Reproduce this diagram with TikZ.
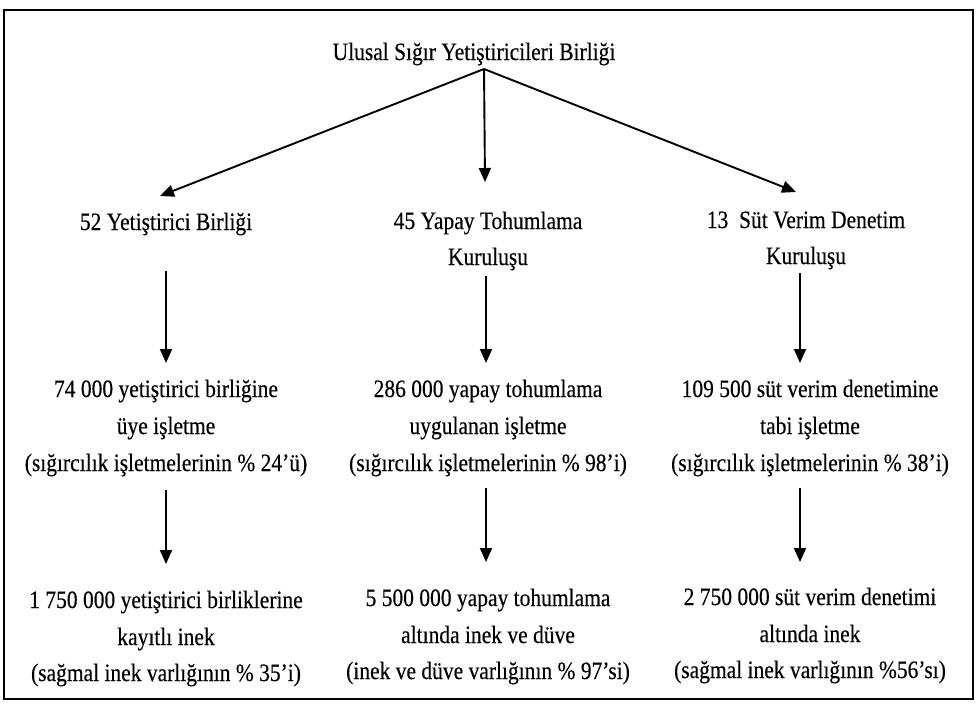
\documentclass[tikz,border=0pt]{standalone}
\usepackage{fontspec}
\setmainfont[FakeStretch=0.86,FakeBold=0.3]{Liberation Serif}
\usetikzlibrary{arrows.meta,calc}
\begin{document}
\begin{tikzpicture}[x=1pt,y=-1pt,
  txt/.style={anchor=base,inner sep=0pt,font=\fontsize{25}{30}\selectfont},
  arr/.style={-{Triangle[length=14pt,width=12pt]},line width=1.9pt},
  frame/.style={line width=2.2pt}]
\useasboundingbox (0,0) rectangle (976,709);
\fill[white] (0,0) rectangle (976,709);
\draw[frame] (4,10) rectangle (973,699);

% title
\node[txt] (title) at (474,60) {Ulusal Sığır Yetiştiricileri Birliği};
\coordinate (apex) at (484,69);

% row 2
\node[txt] (l2)  at (166,230) {52 Yetiştirici Birliği};
\node[txt] (m2a) at (488,229) {45 Yapay Tohumlama};
\node[txt] (m2b) at (488,265) {Kuruluşu};
\node[txt] (r2a) at (806,228) {13\ \ Süt Verim Denetim};
\node[txt] (r2b) at (806,264) {Kuruluşu};

% row 3
\node[txt] (l3a) at (166,397) {74 000 yetiştirici birliğine};
\node[txt] (l3b) at (166,434) {üye işletme};
\node[txt] (l3c) at (166,471) {(sığırcılık işletmelerinin \% 24’ü)};
\node[txt] (m3a) at (488,397) {286 000 yapay tohumlama};
\node[txt] (m3b) at (488,434) {uygulanan işletme};
\node[txt] (m3c) at (488,471) {(sığırcılık işletmelerinin \% 98’i)};
\node[txt] (r3a) at (810,397) {109 500 süt verim denetimine};
\node[txt] (r3b) at (810,434) {tabi işletme};
\node[txt] (r3c) at (810,471) {(sığırcılık işletmelerinin \% 38’i)};

% row 4
\node[txt] (l4a) at (166,608) {1 750 000 yetiştirici birliklerine};
\node[txt] (l4b) at (166,645) {kayıtlı inek};
\node[txt] (l4c) at (166,681) {(sağmal inek varlığının \% 35’i)};
\node[txt] (m4a) at (488,606) {5 500 000 yapay tohumlama};
\node[txt] (m4b) at (488,643) {altında inek ve düve};
\node[txt] (m4c) at (488,679) {(inek ve düve varlığının \% 97’si)};
\node[txt] (r4a) at (810,605) {2 750 000 süt verim denetimi};
\node[txt] (r4b) at (810,642) {altında inek};
\node[txt] (r4c) at (810,678) {(sağmal inek varlığının \%56’sı)};

% top arrows
\draw[arr] (apex) -- ($(l2.base)+(-6,-34)$);
\draw[arr] (apex) -- ($(m2a.base)+(-3,-47)$);
\draw[arr] (apex) -- ($(r2a.base)+(-10,-36)$);

% row 2 -> row 3
\draw[arr] ($(l2.base)+(0,41)$) -- ($(l3a.base)+(0,-34)$);
\draw[arr] ($(m2b.base)+(-2,11)$) -- ($(m3a.base)+(-2,-34)$);
\draw[arr] ($(r2b.base)+(-6,9)$) -- ($(r3a.base)+(-10,-34)$);

% row 3 -> row 4
\draw[arr] ($(l3c.base)+(0,19)$) -- ($(l4a.base)+(0,-44)$);
\draw[arr] ($(m3c.base)+(-2,17)$) -- ($(m4a.base)+(-2,-44)$);
\draw[arr] ($(r3c.base)+(-10,17)$) -- ($(r4a.base)+(-10,-43)$);
\end{tikzpicture}
\end{document}
